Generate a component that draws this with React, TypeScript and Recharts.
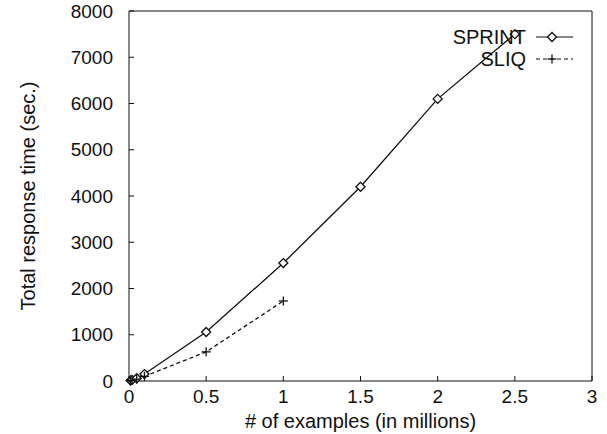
import React from "react";
import { Line, LineChart, XAxis, YAxis } from "recharts";

// # of examples (in millions)
const sprintSizes = [0.01, 0.02, 0.05, 0.1, 0.5, 1.0, 1.5, 2.0, 2.5];
const sprintTimes = [10, 25, 60, 150, 1060, 2550, 4200, 6100, 7500];

const sliqSizes = [0.01, 0.02, 0.05, 0.1, 0.5, 1.0];
const sliqTimes = [5, 15, 40, 100, 630, 1730];

const xTicks = [0, 0.5, 1, 1.5, 2, 2.5, 3];
const yTicks = [0, 1000, 2000, 3000, 4000, 5000, 6000, 7000, 8000];

const sprintData = sprintSizes.map((x, i) => ({ x, time: sprintTimes[i] }));
const sliqData = sliqSizes.map((x, i) => ({ x, time: sliqTimes[i] }));

const FONT = "'Liberation Sans', Arial, Helvetica, sans-serif";
const INK = "#111";

function Diamond(props: any) {
  const { cx, cy } = props;
  if (cx == null || cy == null) return null;
  const r = 4.5;
  return (
    <polygon
      key={`d-${cx}-${cy}`}
      points={`${cx},${cy - r} ${cx + r},${cy} ${cx},${cy + r} ${cx - r},${cy}`}
      fill="#fff"
      stroke={INK}
      strokeWidth={1.3}
    />
  );
}

function Plus(props: any) {
  const { cx, cy } = props;
  if (cx == null || cy == null) return null;
  const r = 4.5;
  return (
    <g key={`p-${cx}-${cy}`} stroke={INK} strokeWidth={1.3}>
      <line x1={cx - r} y1={cy} x2={cx + r} y2={cy} />
      <line x1={cx} y1={cy - r} x2={cx} y2={cy + r} />
    </g>
  );
}

const legendRows = [
  { name: "SPRINT", dash: undefined, marker: "diamond" },
  { name: "SLIQ", dash: "4 3", marker: "plus" },
];

function ChartLegend() {
  return (
    <svg
      width={170}
      height={50}
      style={{ position: "absolute", left: 420, top: 24, overflow: "visible" }}
    >
      {legendRows.map((r, i) => {
        const cy = 13 + 22 * i;
        return (
          <g key={r.name}>
            <text
              x={106}
              y={cy + 7}
              textAnchor="end"
              fontFamily={FONT}
              fontSize={20}
              fill={INK}
            >
              {r.name}
            </text>
            <line
              x1={116}
              y1={cy}
              x2={153}
              y2={cy}
              stroke={INK}
              strokeWidth={1.2}
              strokeDasharray={r.dash}
            />
            {r.marker === "diamond" ? (
              <Diamond cx={132} cy={cy} />
            ) : (
              <Plus cx={132} cy={cy} />
            )}
          </g>
        );
      })}
    </svg>
  );
}

const tickStyle = { fill: INK, fontSize: 19, fontFamily: FONT };

export default function App() {
  return (
    <div
      style={{
        position: "absolute",
        left: 0,
        top: 0,
        width: 607,
        height: 434,
        background: "#fff",
      }}
    >
      <LineChart
        width={607}
        height={434}
        margin={{ top: 10, right: 14, bottom: 23, left: 69 }}
      >
        <XAxis
          xAxisId="bottom"
          dataKey="x"
          type="number"
          domain={[0, 3]}
          ticks={xTicks}
          height={30}
          tickSize={-5}
          tickMargin={14}
          tick={tickStyle}
          stroke={INK}
          interval={0}
          label={{
            content: ({ viewBox }: any) => (
              <text
                x={viewBox.x + viewBox.width / 2}
                y={428}
                textAnchor="middle"
                fontFamily={FONT}
                fontSize={20}
                fill={INK}
              >
                # of examples (in millions)
              </text>
            ),
          }}
        />
        <XAxis
          xAxisId="top"
          orientation="top"
          dataKey="x"
          type="number"
          domain={[0, 3]}
          ticks={xTicks}
          height={1}
          tickSize={-5}
          tick={false}
          stroke={INK}
          interval={0}
        />
        <YAxis
          yAxisId="left"
          type="number"
          domain={[0, 8000]}
          ticks={yTicks}
          width={60}
          tickSize={-5}
          tickMargin={21}
          tick={tickStyle}
          stroke={INK}
          interval={0}
          label={{
            content: ({ viewBox }: any) => (
              <text
                transform={`translate(28, ${viewBox.y + viewBox.height / 2}) rotate(-90)`}
                textAnchor="middle"
                dominantBaseline="central"
                fontFamily={FONT}
                fontSize={20}
                fill={INK}
              >
                Total response time (sec.)
              </text>
            ),
          }}
        />
        <YAxis
          yAxisId="right"
          orientation="right"
          type="number"
          domain={[0, 8000]}
          ticks={yTicks}
          width={1}
          tickSize={-5}
          tick={false}
          stroke={INK}
          interval={0}
        />
        <Line
          xAxisId="bottom"
          yAxisId="left"
          data={sprintData}
          dataKey="time"
          name="SPRINT"
          type="linear"
          stroke={INK}
          strokeWidth={1.3}
          dot={Diamond}
          activeDot={false}
          isAnimationActive={false}
        />
        <Line
          xAxisId="bottom"
          yAxisId="left"
          data={sliqData}
          dataKey="time"
          name="SLIQ"
          type="linear"
          stroke={INK}
          strokeWidth={1.3}
          strokeDasharray="4 3"
          dot={Plus}
          activeDot={false}
          isAnimationActive={false}
        />
        {/* mirror axes use their own ids; bind a hidden series so they render */}
        <Line
          xAxisId="top"
          yAxisId="right"
          data={sprintData}
          dataKey="time"
          stroke="none"
          dot={false}
          activeDot={false}
          legendType="none"
          isAnimationActive={false}
        />
      </LineChart>
      <ChartLegend />
    </div>
  );
}
